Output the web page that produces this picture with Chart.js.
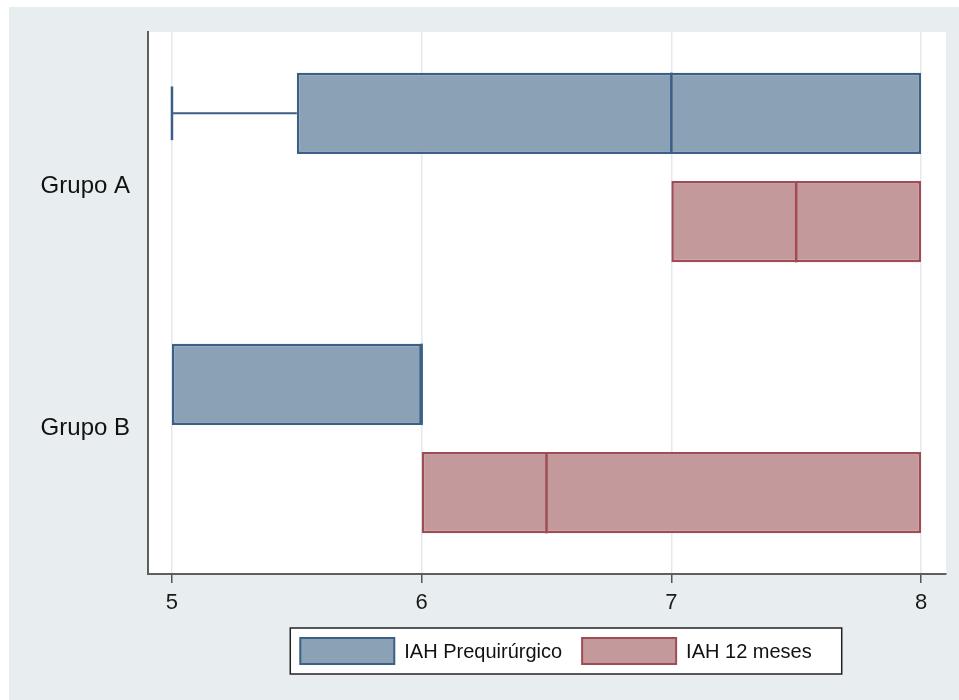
<!DOCTYPE html>
<html>
<head>
<meta charset="utf-8">
<script src="https://cdn.jsdelivr.net/npm/chart.js@4/dist/chart.umd.min.js"></script>
<style>
  html, body { margin: 0; padding: 0; background: #ffffff; }
  #wrap { position: absolute; left: 0; top: 0; width: 959px; height: 700px; }
</style>
</head>
<body>
<div id="wrap"><canvas id="chart" width="959" height="700"></canvas></div>
<script>
// Groups and series
const groups = ['Grupo A', 'Grupo B'];
const seriesNames = ['IAH Prequirúrgico', 'IAH 12 meses'];

// Box statistics per group: IAH prequirúrgico
const preMin    = [5,   5];
const preQ1     = [5.5, 5];
const preMedian = [7,   6];
const preQ3     = [8,   6];
const preMax    = [8,   6];

// Box statistics per group: IAH a los 12 meses
const postMin    = [7,   6];
const postQ1     = [7,   6];
const postMedian = [7.5, 6.5];
const postQ3     = [8,   8];
const postMax    = [8,   8];

// Horizontal axis ticks
const xTicks = [5, 6, 7, 8];

const FONT = '"Liberation Sans", Arial, Helvetica, sans-serif';
const BLUE_FILL = '#8aa1b6', BLUE_LINE = '#3b5f87';
const RED_FILL = '#c4999b', RED_LINE = '#a04c55';
const LINE_W = 2.5;

const stats = [
  { min: preMin,  q1: preQ1,  med: preMedian,  q3: preQ3,  max: preMax },
  { min: postMin, q1: postQ1, med: postMedian, q3: postQ3, max: postMax }
];

// Background: white margin, light panel, white plot region
const backgroundPlugin = {
  id: 'panels',
  beforeDraw(chart) {
    const { ctx, chartArea: a } = chart;
    ctx.save();
    ctx.fillStyle = '#ffffff';
    ctx.fillRect(0, 0, chart.width, chart.height);
    ctx.fillStyle = '#e8eef0';
    ctx.fillRect(9, 7, chart.width - 9, chart.height - 7);
    ctx.fillStyle = '#ffffff';
    ctx.fillRect(a.left, a.top, a.right - a.left, a.bottom - a.top);
    ctx.restore();
  }
};

// Medians, whiskers and caps drawn over the floating bars
const boxPlugin = {
  id: 'boxParts',
  afterDatasetsDraw(chart) {
    const { ctx } = chart;
    const xs = chart.scales.x;
    ctx.save();
    chart.data.datasets.forEach((ds, di) => {
      const meta = chart.getDatasetMeta(di);
      const s = stats[di];
      meta.data.forEach((bar, i) => {
        const yc = bar.y;
        const h = bar.height;
        const px = v => xs.getPixelForValue(v);
        ctx.strokeStyle = ds.borderColor;
        ctx.lineWidth = LINE_W;
        // median
        ctx.beginPath();
        ctx.moveTo(px(s.med[i]), yc - h / 2);
        ctx.lineTo(px(s.med[i]), yc + h / 2);
        ctx.stroke();
        const cap = h * 0.33;
        // lower whisker
        if (s.min[i] < s.q1[i]) {
          ctx.lineWidth = 2;
          ctx.beginPath();
          ctx.moveTo(px(s.q1[i]), yc);
          ctx.lineTo(px(s.min[i]), yc);
          ctx.stroke();
          ctx.lineWidth = 2.5;
          ctx.beginPath();
          ctx.moveTo(px(s.min[i]), yc - cap);
          ctx.lineTo(px(s.min[i]), yc + cap);
          ctx.stroke();
        }
        // upper whisker
        if (s.max[i] > s.q3[i]) {
          ctx.lineWidth = 2;
          ctx.beginPath();
          ctx.moveTo(px(s.q3[i]), yc);
          ctx.lineTo(px(s.max[i]), yc);
          ctx.stroke();
          ctx.lineWidth = 2.5;
          ctx.beginPath();
          ctx.moveTo(px(s.max[i]), yc - cap);
          ctx.lineTo(px(s.max[i]), yc + cap);
          ctx.stroke();
        }
      });
    });
    ctx.restore();
  }
};

// Group names on the left and the framed legend below the plot
const labelShift = [25, -4];
const annotationPlugin = {
  id: 'groupLabelsLegend',
  afterDraw(chart) {
    const { ctx, chartArea: a } = chart;
    const ys = chart.scales.y;
    ctx.save();
    ctx.fillStyle = '#111111';
    ctx.font = '24px ' + FONT;
    ctx.textAlign = 'right';
    ctx.textBaseline = 'alphabetic';
    groups.forEach((g, i) => {
      ctx.fillText(g, a.left - 18, ys.getPixelForTick(i) + labelShift[i]);
    });

    // legend
    ctx.font = '20px ' + FONT;
    ctx.textAlign = 'left';
    ctx.textBaseline = 'middle';
    const sw = 94, sh = 26, padL = 10, gapText = 10, gapItem = 20, padR = 30;
    const widths = chart.data.datasets.map(d => ctx.measureText(d.label).width);
    let total = padL + padR;
    widths.forEach((w, i) => { total += sw + gapText + w + (i ? gapItem : 0); });
    const cx = 566, top = 628, boxH = 46;
    const left = cx - total / 2;
    ctx.fillStyle = '#ffffff';
    ctx.fillRect(left, top, total, boxH);
    ctx.strokeStyle = '#222222';
    ctx.lineWidth = 1.5;
    ctx.strokeRect(left, top, total, boxH);
    let x = left + padL;
    const cy = top + boxH / 2;
    chart.data.datasets.forEach((d, i) => {
      ctx.fillStyle = d.backgroundColor;
      ctx.fillRect(x, cy - sh / 2, sw, sh);
      ctx.strokeStyle = d.borderColor;
      ctx.lineWidth = 2;
      ctx.strokeRect(x, cy - sh / 2, sw, sh);
      ctx.fillStyle = '#111111';
      ctx.fillText(d.label, x + sw + gapText, cy + 1);
      x += sw + gapText + widths[i] + gapItem;
    });
    ctx.restore();
  }
};

new Chart(document.getElementById('chart'), {
  type: 'bar',
  data: {
    labels: groups,
    datasets: [
      {
        label: seriesNames[0],
        data: preQ1.map((q, i) => [q, preQ3[i]]),
        backgroundColor: BLUE_FILL,
        borderColor: BLUE_LINE,
        borderWidth: LINE_W,
        borderSkipped: false
      },
      {
        label: seriesNames[1],
        data: postQ1.map((q, i) => [q, postQ3[i]]),
        backgroundColor: RED_FILL,
        borderColor: RED_LINE,
        borderWidth: LINE_W,
        borderSkipped: false
      }
    ]
  },
  options: {
    indexAxis: 'y',
    responsive: false,
    animation: false,
    devicePixelRatio: 1,
    categoryPercentage: 0.8,
    barPercentage: 0.75,
    layout: { padding: { left: 148, right: 13, top: 32, bottom: 66 } },
    plugins: {
      legend: { display: false },
      tooltip: { enabled: false },
      title: { display: false }
    },
    scales: {
      x: {
        type: 'linear',
        min: 4.904,
        max: 8.1,
        afterBuildTicks: s => { s.ticks = xTicks.map(v => ({ value: v })); },
        afterFit: s => { s.height = 60; },
        grid: {
          color: '#e3eaee',
          lineWidth: 1.5,
          tickColor: '#555555',
          tickLength: 9,
          tickWidth: 1.5
        },
        border: { display: true, color: '#5f5f5f', width: 2 },
        ticks: {
          color: '#1a1a1a',
          font: { family: FONT, size: 22 },
          padding: 7,
          maxRotation: 0
        }
      },
      y: {
        type: 'category',
        afterFit: s => { s.width = 0; },
        grid: { display: false, drawTicks: false },
        border: { display: true, color: '#5f5f5f', width: 2 },
        ticks: { display: false }
      }
    }
  },
  plugins: [backgroundPlugin, boxPlugin, annotationPlugin]
});
</script>
</body>
</html>
